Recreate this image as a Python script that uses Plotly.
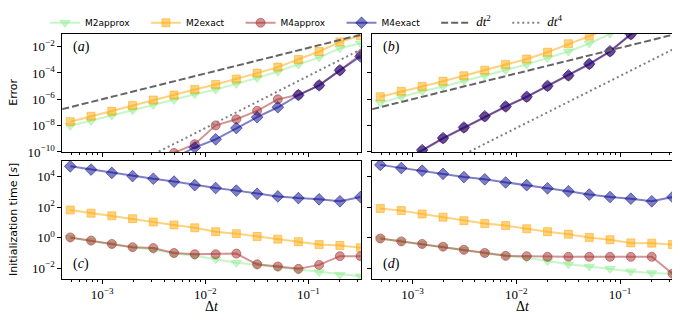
import plotly.graph_objects as go
from plotly.subplots import make_subplots

# time steps (shared by all four panels)
dt = [4.9e-4, 7.8e-4, 1.24e-3, 1.97e-3, 3.13e-3, 4.97e-3, 7.9e-3, 1.26e-2,
      2.0e-2, 3.18e-2, 5.05e-2, 8.0e-2, 1.27e-1, 2.02e-1, 3.2e-1]

# panel (a): error
err_a_m2approx = [9.8e-9, 2.3e-8, 5.9e-8, 1.48e-7, 3.8e-7, 8.9e-7, 2.45e-6, 5.5e-6,
                  1.5e-5, 4.2e-5, 1.29e-4, 4.5e-4, 1.55e-3, 7.6e-3, 1.8e-2]
err_a_m2exact = [2.0e-8, 5.2e-8, 1.23e-7, 3.4e-7, 8.9e-7, 2.1e-6, 5.5e-6, 1.35e-5,
                 3.5e-5, 9.8e-5, 2.8e-4, 1.05e-3, 4.3e-3, 2.3e-2, 7.0e-2]
err_a_m4approx = [None, None, None, None, None, 8.5e-11, 3.9e-10, 1.05e-8,
                  3.1e-8, 1.35e-7, 1.0e-6, 2.2e-6, 1.15e-5, 1.6e-4, 2.45e-3]
err_a_m4exact = [None, None, None, None, None, 3.5e-11, 2.2e-10, 9.1e-10,
                 6.6e-9, 4.4e-8, 2.5e-7, 2.1e-6, 1.15e-5, 1.6e-4, 1.8e-3]

# panel (b): error
err_b_m2approx = [5.6e-7, 1.58e-6, 4.1e-6, 9.5e-6, 2.6e-5, 6.2e-5, 1.7e-4, 4.5e-4,
                  1.38e-3, 4.3e-3, 1.74e-2, 9.8e-2, 0.5, None, None]
err_b_m2exact = [1.58e-6, 4.1e-6, 9.5e-6, 2.35e-5, 6.2e-5, 1.62e-4, 4.5e-4, 1.17e-3,
                 3.8e-3, 1.66e-2, 6.3e-2, 0.25, None, None, None]
err_b_m4approx = [None, 1.8e-11, 1.25e-10, 1.05e-9, 6.8e-9, 4.8e-8, 2.7e-7, 1.45e-6,
                  9.8e-6, 6.1e-5, 4.6e-4, 4.2e-3, 8.3e-2, 0.95, None]
err_b_m4exact = [None, 2.0e-11, 1.4e-10, 1.15e-9, 7.4e-9, 5.2e-8, 2.9e-7, 1.58e-6,
                 1.05e-5, 6.6e-5, 4.9e-4, 4.5e-3, 8.9e-2, 1.0, None]

# reference slopes (at two points)
ref2_dt = [4.1e-4, 0.324]
ref2_err = [1.8e-7, 8.1e-2]
ref4_dt = [2.9e-3, 0.324]
ref4_err = [4.9e-11, 6.3e-3]

# panel (c): initialization time [s]
t_c_m2approx = [1.0, 0.63, 0.38, 0.23, 0.17, 0.091, 0.065, 0.04,
                0.023, 0.0166, 0.0117, 0.0079, 0.0056, 0.0038, 0.003]
t_c_m2exact = [66, 41, 27.5, 17.8, 10.7, 6.9, 4.5, 2.5,
               1.86, 1.2, 0.81, 0.55, 0.355, 0.31, 0.22]
t_c_m4approx = [1.05, 0.65, 0.39, 0.24, 0.21, 0.1, 0.083, 0.083,
                0.091, 0.018, 0.013, 0.0091, 0.0166, 0.062, 0.062]
t_c_m4exact = [4.8e4, 2.95e4, 1.78e4, 1.1e4, 7.4e3, 4.8e3, 2.8e3, 1.82e3,
               1.23e3, 760, 513, 398, 331, 245, 468]

# panel (d): initialization time [s]
t_d_m2approx = [0.89, 0.575, 0.39, 0.26, 0.162, 0.1, 0.065, 0.048,
                0.0295, 0.018, 0.013, 0.0091, 0.0062, 0.0049, 0.0044]
t_d_m2exact = [83, 60, 36, 22.4, 13.2, 8.5, 6.3, 3.9,
               2.5, 1.7, 1.05, 0.74, 0.46, 0.44, 0.355]
t_d_m4approx = [0.89, 0.575, 0.39, 0.26, 0.162, 0.1, 0.065, 0.062,
                0.056, 0.056, 0.056, 0.056, 0.056, 0.056, 0.0044]
t_d_m4exact = [6.0e4, 3.7e4, 2.5e4, 1.55e4, 9.5e3, 6.8e3, 4.2e3, 2.8e3,
               1.74e3, 1.12e3, 676, 468, 363, 245, 468]

x_tickvals = [1e-3, 1e-2, 1e-1]
x_ticktext = ['10<sup>\u22123</sup>', '10<sup>\u22122</sup>', '10<sup>\u22121</sup>']
err_tickvals = [1e-10, 1e-8, 1e-6, 1e-4, 1e-2]
err_ticktext = ['10<sup>\u221210</sup>', '10<sup>\u22128</sup>', '10<sup>\u22126</sup>',
                '10<sup>\u22124</sup>', '10<sup>\u22122</sup>']
time_tickvals = [1e-2, 1, 1e2, 1e4]
time_ticktext = ['10<sup>\u22122</sup>', '10<sup>0</sup>', '10<sup>2</sup>', '10<sup>4</sup>']

SERIF = 'Liberation Serif'
SANS = 'DejaVu Sans'

# the page body adds an 8px margin, so the figure is drawn 8px smaller and
# every pixel position below is measured from the page corner minus OFF
OFF = 8
W, H = 680 - OFF, 320 - OFF


def px(x):
    return (x - OFF) / W


def py(y):
    return 1 - (y - OFF) / H


series = [
    # name, color rgb, symbol, size
    ('M2approx', '144,238,144', 'triangle-down', 9),
    ('M2exact', '255,165,0', 'square', 8),
    ('M4approx', '165,42,42', 'circle', 9),
    ('M4exact', '0,0,139', 'diamond', 9),
]

panel_data = {
    (1, 1): [err_a_m2approx, err_a_m2exact, err_a_m4approx, err_a_m4exact],
    (1, 2): [err_b_m2approx, err_b_m2exact, err_b_m4approx, err_b_m4exact],
    (2, 1): [t_c_m2approx, t_c_m2exact, t_c_m4approx, t_c_m4exact],
    (2, 2): [t_d_m2approx, t_d_m2exact, t_d_m4approx, t_d_m4exact],
}

fig = make_subplots(rows=2, cols=2)

pad = '\u00a0' * 4  # a little extra room between legend entries
for (row, col), ys in panel_data.items():
    for (name, rgb, symbol, size), y in zip(series, ys):
        fig.add_trace(go.Scatter(
            x=dt, y=y, name=name + pad, legendgroup=name,
            showlegend=(row == 1 and col == 1),
            mode='lines+markers',
            line=dict(color=f'rgba({rgb},0.5)', width=2),
            marker=dict(symbol=symbol, size=size, color=f'rgba({rgb},0.5)',
                        line=dict(color=f'rgba({rgb},0.5)', width=1)),
        ), row=row, col=col)

# reference slope lines in the error panels
ref_style = '<span style="font-family:Liberation Serif;font-size:13px"><i>dt</i><sup>{}</sup></span>'
for col in (1, 2):
    fig.add_trace(go.Scatter(
        x=ref2_dt, y=ref2_err, mode='lines', name=ref_style.format(2) + pad,
        legendgroup='dt2', showlegend=(col == 1),
        line=dict(color='rgb(100,100,100)', width=2, dash='7px,3px'),
    ), row=1, col=col)
    fig.add_trace(go.Scatter(
        x=ref4_dt, y=ref4_err, mode='lines', name=ref_style.format(4),
        legendgroup='dt4', showlegend=(col == 1),
        line=dict(color='rgb(128,128,128)', width=2, dash='2px,3px'),
    ), row=1, col=col)

x_domains = {1: [px(62), px(361)], 2: [px(372), px(673)]}
y_domains = {1: [py(147), py(25)], 2: [py(278), py(156)]}

axis_common = dict(
    type='log', showline=True, linecolor='black', linewidth=1.2, mirror=True,
    ticks='outside', ticklen=3.5, tickwidth=1, tickcolor='black',
    showgrid=False, zeroline=False, automargin=False,
    tickfont=dict(family=SERIF, size=13, color='black'),
)

for row in (1, 2):
    for col in (1, 2):
        fig.update_xaxes(
            axis_common, domain=x_domains[col], range=[-3.39, -0.49],
            tickvals=x_tickvals, ticktext=x_ticktext,
            showticklabels=(row == 2),
            minor=dict(ticks='outside', ticklen=2, tickwidth=0.8, tickcolor='black',
                       dtick='D1', showgrid=False),
            row=row, col=col)
        if row == 1:
            fig.update_yaxes(axis_common, domain=y_domains[1], range=[-10, -1],
                             tickvals=err_tickvals, ticktext=err_ticktext,
                             showticklabels=(col == 1), row=row, col=col)
        else:
            fig.update_yaxes(axis_common, domain=y_domains[2], range=[-2.72, 5.05],
                             tickvals=time_tickvals, ticktext=time_ticktext,
                             showticklabels=(col == 1), row=row, col=col)

# axis titles
title_font = dict(family=SANS, size=11, color='black')
fig.add_annotation(text='Error', xref='paper', yref='paper', x=px(14), y=py(86),
                   textangle=-90, showarrow=False, font=title_font,
                   xanchor='center', yanchor='middle')
fig.add_annotation(text='Initialization time [<i>s</i>]', xref='paper', yref='paper',
                   x=px(14), y=py(217), textangle=-90, showarrow=False,
                   font=title_font, xanchor='center', yanchor='middle')
for xc in (211.5, 522.5):
    fig.add_annotation(text='\u0394<i>t</i>', xref='paper', yref='paper', x=px(xc),
                       y=py(306), showarrow=False, xanchor='center',
                       yanchor='middle', font=dict(family=SERIF, size=14, color='black'))

# panel letters
labels = [('(<i>a</i>)', 'x domain', 'y domain', 0.03, 0.97, 'top'),
          ('(<i>b</i>)', 'x2 domain', 'y2 domain', 0.03, 0.97, 'top'),
          ('(<i>c</i>)', 'x3 domain', 'y3 domain', 0.03, 0.04, 'bottom'),
          ('(<i>d</i>)', 'x4 domain', 'y4 domain', 0.03, 0.04, 'bottom')]
for text, xr, yr, x, y, ya in labels:
    fig.add_annotation(text=text, xref=xr, yref=yr, x=x, y=y, xanchor='left',
                       yanchor=ya, showarrow=False,
                       font=dict(family=SERIF, size=14, color='black'))

fig.update_layout(
    width=W, height=H,
    margin=dict(l=0, r=0, t=0, b=0),
    paper_bgcolor='white', plot_bgcolor='white',
    font=dict(family=SERIF, color='black'),
    legend=dict(orientation='h', x=px(45), y=1 + 9 / H, xanchor='left', yanchor='top',
                font=dict(family=SANS, size=9, color='black'),
                bgcolor='rgba(0,0,0,0)', itemwidth=30, tracegroupgap=0),
)

fig.write_html("out.html")
